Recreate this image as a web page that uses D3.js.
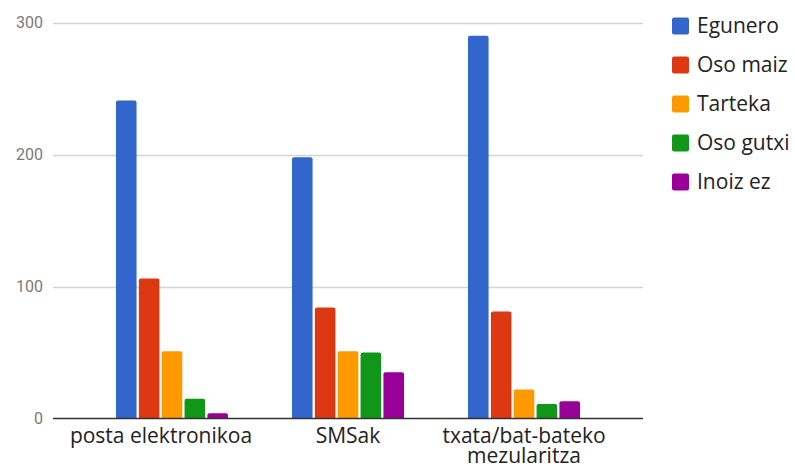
<!DOCTYPE html>
<html>
<head>
<meta charset="utf-8">
<script src="https://cdn.jsdelivr.net/npm/d3@7"></script>
<style>
  html, body { margin: 0; padding: 0; background: #fff; }
  svg { display: block; }
</style>
</head>
<body>
<svg id="chart" width="795" height="466"></svg>
<script>
const categories = ["posta elektronikoa", "SMSak", "txata/bat-bateko mezularitza"];
const tickLabels = [["posta elektronikoa"], ["SMSak"], ["txata/bat-bateko", "mezularitza"]];
const seriesNames = ["Egunero", "Oso maiz", "Tarteka", "Oso gutxi", "Inoiz ez"];
const egunero = [241, 198, 290];
const osoMaiz = [106, 84, 81];
const tarteka = [51, 51, 22];
const osoGutxi = [15, 50, 11];
const inoizEz = [4, 35, 13];
const yTicks = [0, 100, 200, 300];
const colors = ["#3366cc", "#dc3912", "#ff9900", "#109618", "#990099"];

const seriesValues = [egunero, osoMaiz, tarteka, osoGutxi, inoizEz];

const svg = d3.select("#chart");
const pLeft = 53, pRight = 643, pTop = 22.5, pBottom = 418.5;
const labelFont = "'Open Sans', sans-serif";

const y = d3.scaleLinear().domain([0, 300]).range([pBottom, pTop]);
const x0 = d3.scaleBand().domain(categories).range([pLeft, pRight]).paddingInner(0).paddingOuter(0.176);
const x1 = d3.scaleBand().domain(seriesNames).range([32, x0.bandwidth() - 32]).paddingInner(0.1).paddingOuter(0);

// gridlines
svg.append("g").selectAll("line").data(yTicks.filter(d => d !== 0)).join("line")
  .attr("x1", pLeft).attr("x2", pRight)
  .attr("y1", d => Math.round(y(d)) + 0.5).attr("y2", d => Math.round(y(d)) + 0.5)
  .attr("stroke", "#d4d4d4").attr("stroke-width", 1.3);

// y axis labels
const yAxis = d3.axisLeft(y).tickValues(yTicks).tickSize(0).tickPadding(0);
const ya = svg.append("g").attr("transform", `translate(${pLeft - 10},0)`).call(yAxis);
ya.select(".domain").remove();
ya.selectAll("text").attr("font-family", "Roboto, sans-serif").attr("font-size", 16).attr("fill", "#7a7a7a");

// bars
const rounded = (x, yTop, w, h, r) => {
  r = Math.min(r, h, w / 2);
  return `M${x},${yTop + h}V${yTop + r}Q${x},${yTop} ${x + r},${yTop}H${x + w - r}Q${x + w},${yTop} ${x + w},${yTop + r}V${yTop + h}Z`;
};
const groups = svg.append("g").selectAll("g").data(categories).join("g")
  .attr("transform", d => `translate(${x0(d)},0)`);
groups.selectAll("path").data((d, i) => seriesNames.map((s, j) => ({ s, v: seriesValues[j][i], j })))
  .join("path")
  .attr("d", d => rounded(x1(d.s), y(d.v), x1.bandwidth(), pBottom - y(d.v), 2))
  .attr("fill", d => colors[d.j]);

// baseline
svg.append("line").attr("x1", pLeft).attr("x2", pRight)
  .attr("y1", pBottom).attr("y2", pBottom).attr("stroke", "#333").attr("stroke-width", 1.5);

// x axis labels
const xAxis = d3.axisBottom(x0).tickSize(0).tickFormat(() => "");
const xa = svg.append("g").attr("transform", `translate(0,${pBottom})`).call(xAxis);
xa.select(".domain").remove();
xa.selectAll(".tick text").each(function(d, i) {
  const t = d3.select(this).text(null).attr("y", 0).attr("dy", null)
    .attr("font-family", labelFont).attr("font-size", 21).attr("fill", "#222");
  tickLabels[i].forEach((ln, k) => {
    t.append("tspan").attr("x", 0).attr("y", 24.5 + k * 20).text(ln);
  });
  // a single over-wide label is nudged left (as in the original rendering)
  if (i === 0) t.attr("dx", -11);
});

// legend
const lg = svg.append("g").selectAll("g").data(seriesNames).join("g")
  .attr("transform", (d, i) => `translate(672,${26 + i * 39})`);
lg.append("rect").attr("x", 0).attr("y", -8.5).attr("width", 17).attr("height", 17).attr("rx", 2)
  .attr("fill", (d, i) => colors[i]);
lg.append("text").attr("x", 25).attr("y", 0).attr("dy", "0.35em")
  .attr("font-family", labelFont).attr("font-size", 21).attr("fill", "#222")
  .text(d => d);
</script>
</body>
</html>
